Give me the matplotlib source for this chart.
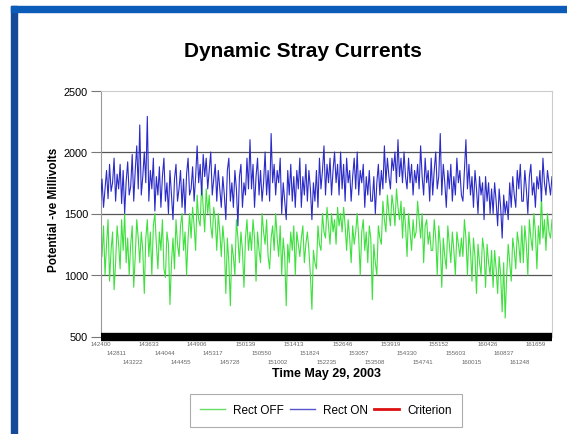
import numpy as np
import matplotlib
matplotlib.use("Agg")
import matplotlib.pyplot as plt
from matplotlib.patches import Rectangle
from matplotlib.lines import Line2D

plt.rcParams['font.family'] = ['Liberation Sans', 'DejaVu Sans']

title = "Dynamic Stray Currents"
ylabel = "Potential -ve Millivolts"
xlabel = "Time May 29, 2003"

time_labels = ["142400", "142811", "143222", "143633", "144044", "144455", "144906",
               "145317", "145728", "150139", "150550", "151002", "151413", "151824",
               "152235", "152646", "153057", "153508", "153919", "154330", "154741",
               "155152", "155603", "160015", "160426", "160837", "161248", "161659"]

rect_on = [
    1600, 1780, 1550, 1700, 1850, 1620, 1900, 1680, 1750, 1950, 1600, 1820, 1700, 1900, 1580, 1850, 1500, 1760, 1920, 1650,
    1720, 1980, 1600, 1850, 2050, 1700, 2220, 1650, 1800, 2000, 1750, 2290, 1600, 1850, 1700, 1950, 1520, 1800, 1650, 1880,
    1550, 1800, 1950, 1600, 1750, 1500, 1850, 1650, 1450, 1780, 1900, 1600, 1700, 1850, 1550, 1780, 1500, 1820, 1950, 1650,
    1700, 1880, 1600, 1800, 2050, 1750, 1900, 1650, 1980, 1800, 1950, 1700, 1850, 2000, 1650, 1780, 1900, 1600, 1850, 1700,
    1550, 1800, 1650, 1450, 1850, 1950, 1600, 1750, 1550, 1850, 1700, 1400, 1800, 1900, 1550, 1750, 1650, 1950, 1700, 2100,
    1700, 1900, 1550, 1800, 1950, 1650, 1850, 1600, 1750, 2000, 1650, 1850, 1600, 2150, 1750, 1900, 1650, 1850, 1750, 1950,
    1500, 1750, 1600, 1450, 1850, 1650, 1900, 1600, 1800, 1550, 1850, 1700, 1950, 1550, 1800, 1650, 1900, 1600, 1850, 1700,
    1450, 1750, 1600, 1850, 1550, 1950, 1700, 1850, 2050, 1650, 1900, 1750, 1950, 1650, 1850, 2000, 1750, 1900, 1650, 2000,
    1700, 1900, 1600, 1950, 1750, 1850, 1600, 1800, 1950, 1700, 2000, 1650, 1850, 1750, 1900, 1550, 1800, 1650, 1850, 1600,
    1600, 1800, 1500, 1750, 1900, 1650, 1850, 1700, 2050, 1750, 1950, 1800, 1700, 1950, 1850, 2000, 1750, 2100, 1800, 1950,
    1750, 2000, 1800, 1700, 1950, 1750, 1900, 1650, 1850, 1750, 1900, 1700, 2050, 1800, 1650, 1950, 1750, 1850, 1600, 1950,
    1650, 1850, 2000, 1700, 1800, 2150, 1650, 1900, 1750, 1550, 1850, 1700, 1900, 1600, 1800, 1650, 1950, 1750, 1850, 1650,
    1600, 1850, 2100, 1700, 1900, 1650, 1800, 1550, 1850, 1700, 1500, 1800, 1650, 1750, 1450, 1800, 1600, 1750, 1500, 1700,
    1500, 1750, 1600, 1400, 1700, 1550, 1300, 1650, 1500, 1600, 1450, 1750, 1550, 1800, 1650, 1550, 1850, 1700, 1900, 1600,
    1600, 1850, 1700, 1500, 1800, 1900, 1650, 1750, 1550, 1800, 1700, 1850, 1600, 1950, 1750, 1650, 1850, 1750, 1650, 1800]

rect_off = [
    1300, 1150, 1400, 1000, 1250, 1450, 950, 1200, 1350, 880, 1100, 1400, 1250, 1050, 1450, 1200, 1500, 1100, 1300, 1000,
    1250, 1400, 900, 1150, 1450, 1300, 1100, 1350, 1200, 850, 1300, 1450, 1150, 1350, 1000, 1400, 1500, 1250, 1050, 1350,
    1200, 1450, 1050, 980, 1350, 1250, 760, 1100, 1300, 1050, 1450, 1250, 1150, 1400, 1500, 1200, 1350, 1000, 1300, 1500,
    1300, 1550, 1400, 1200, 1650, 1450, 1400, 1750, 1550, 1350, 1700, 1500, 1650, 1400, 1300, 1550, 1450, 1200, 1500, 1350,
    1150, 1400, 1250, 850, 1300, 1100, 750, 1250, 1150, 1000, 1450, 1300, 1100, 1350, 1200, 900, 1300, 1450, 1200, 1350,
    1200, 1450, 1300, 950, 1350, 1200, 1100, 1500, 1350, 1250, 1450, 1150, 1050, 1300, 1400, 1200, 1500, 1300, 1150, 1400,
    1000, 1300, 1150, 750, 1250, 1100, 1350, 1200, 1400, 1000, 1350, 1250, 1150, 1300, 1400, 1100, 1250, 1350, 1200, 1000,
    720, 1200, 1100, 1050, 1400, 1250, 1200, 1500, 1350, 1300, 1550, 1400, 1250, 1500, 1350, 1450, 1250, 1550, 1400, 1500,
    1350, 1550, 1400, 1200, 1450, 1300, 1100, 1400, 1250, 1350, 1500, 1300, 1000, 1350, 1450, 1200, 1350, 1100, 1400, 1300,
    800, 1250, 1100, 1000, 1400, 1300, 1250, 1600, 1450, 1350, 1650, 1500, 1400, 1650, 1550, 1400, 1700, 1550, 1450, 1600,
    1300, 1550, 1400, 1150, 1500, 1350, 1200, 1450, 1300, 1350, 1600, 1450, 1300, 1500, 1100, 1400, 1450, 1250, 1350, 1200,
    1200, 1450, 1300, 1000, 1400, 1250, 900, 1300, 1150, 1050, 1400, 1250, 1100, 1350, 1200, 1000, 1350, 1250, 1150, 1300,
    1150, 1450, 1300, 1000, 1350, 1200, 950, 1300, 1150, 850, 1250, 1100, 1000, 1300, 1200, 900, 1250, 1100, 1000, 1200,
    900, 1200, 1050, 850, 1150, 1000, 700, 1100, 650, 1000, 1250, 1100, 950, 1300, 1200, 1050, 1350, 1250, 1100, 1400,
    1100, 1400, 1250, 1000, 1450, 1300, 1200, 1500, 1350, 1050, 1400, 1250, 1650, 1300, 1450, 1200, 1500, 1350, 1300, 1450]

criterion = []

def secs(lbl):
    return int(lbl[0:2]) * 3600 + int(lbl[2:4]) * 60 + int(lbl[4:6])

t0 = secs(time_labels[0])
tick_pos = [secs(l) - t0 for l in time_labels]
span = tick_pos[-1]
xmax = span * 452.0 / 436.0
n = len(rect_on)
t = np.linspace(0, xmax, n)

W, H = 567, 435
fig = plt.figure(figsize=(W / 100, H / 100), dpi=100)
fig.patch.set_facecolor('white')

# slide frame
fig.patches.append(Rectangle((11 / W, 0), 6 / W, 1 - 7 / H, transform=fig.transFigure,
                             color='#154a96', zorder=0))
fig.patches.append(Rectangle((11 / W, 1 - 13 / H), 1, 6 / H, transform=fig.transFigure,
                             color='#0b5cb8', zorder=0))

ax = fig.add_axes([100.5 / W, 1 - 337.5 / H, 451.5 / W, 246 / H])
ax.set_xlim(0, xmax)
ax.set_ylim(500, 2500)

for yv in [1000, 1500, 2000]:
    ax.axhline(yv, color='#555555', lw=0.9, zorder=1)

ax.plot(t, rect_off, color='#3ee03e', lw=0.8, zorder=2)
ax.plot(t, rect_on, color='#2b2bc8', lw=0.8, zorder=3)
ax.plot(criterion, criterion, color='#dd1111', lw=1.8)

# dense category tick band
ax.axhline(500, color='black', lw=6.0, clip_on=False, zorder=4, solid_capstyle='butt')

for s in ['top', 'right']:
    ax.spines[s].set_color('#cccccc')
ax.spines['left'].set_color('#999999')
ax.spines['bottom'].set_visible(False)

ax.set_yticks([500, 1000, 1500, 2000, 2500])
ax.tick_params(axis='y', labelsize=7.8, length=7, color='#777777', pad=2)
ax.set_xticks([])

for i, (p, l) in enumerate(zip(tick_pos, time_labels)):
    dy = 7.5 + 9 * (i % 3)
    ax.annotate(l, xy=(p, 0), xycoords=('data', 'axes fraction'), xytext=(0, -dy * 0.72),
                textcoords='offset points', ha='center', va='center', fontsize=4.4,
                color='#666666', annotation_clip=False)

fig.text(303 / W, 1 - 52 / H, title, ha='center', va='center', fontsize=15, fontweight='bold')
fig.text(54 / W, 1 - 210 / H, ylabel, ha='center', va='center', rotation=90, fontsize=8.5,
         fontweight='bold')
fig.text(326 / W, 1 - 374 / H, xlabel, ha='center', va='center', fontsize=9, fontweight='bold')

handles = [Line2D([], [], color='#66dd66', lw=1.0),
           Line2D([], [], color='#5555cc', lw=1.0),
           Line2D([], [], color='#dd1111', lw=2.0)]
leg = fig.legend(handles, ['Rect OFF', 'Rect ON', 'Criterion'], loc='center',
                 bbox_to_anchor=(326 / W, 1 - 411.5 / H), ncol=3, fontsize=8.5,
                 frameon=True, fancybox=False, edgecolor='#999999', handlelength=2.1,
                 borderpad=0.9, columnspacing=0.5, handletextpad=0.7)
leg.get_frame().set_linewidth(0.8)

fig.savefig('out.png', dpi=100)
